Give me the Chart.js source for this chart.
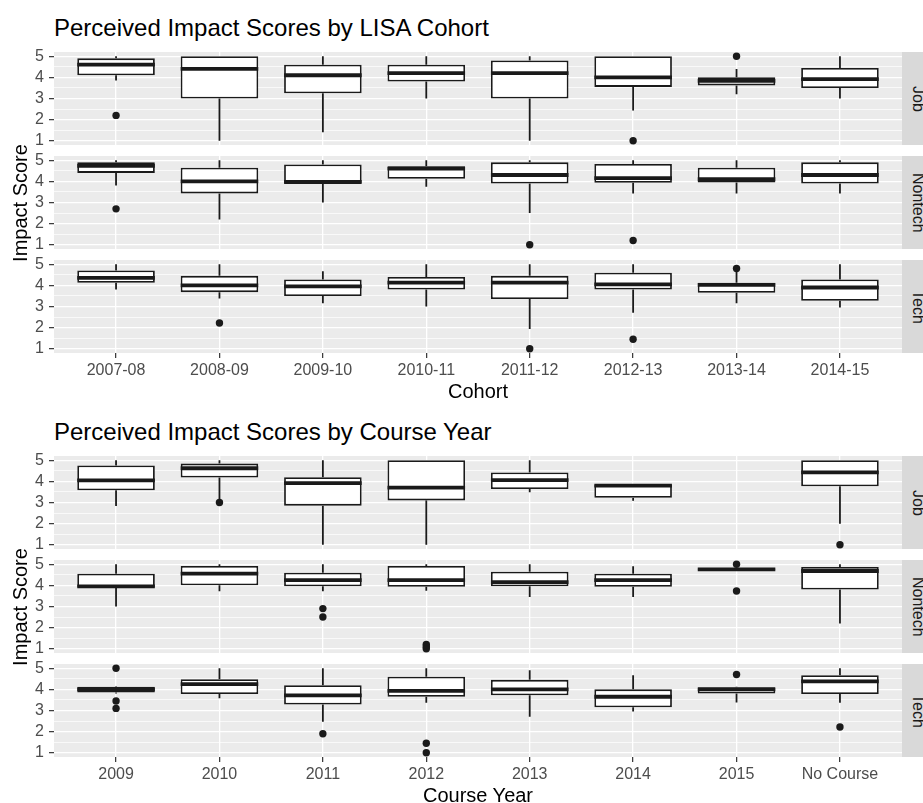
<!DOCTYPE html>
<html lang="en">
<head>
<meta charset="UTF-8">
<title>Perceived Impact Scores</title>
<script src="https://cdn.jsdelivr.net/npm/chart.js"></script>
<style>
  body { margin: 0; background: #fff; font-family: "Liberation Sans", Arial, sans-serif; }
  #page { position: relative; width: 923px; height: 803px; overflow: hidden; }
  canvas, .txt, .strip { position: absolute; }
  .title { font-size: 24px; line-height: 24px; color: #000; white-space: nowrap; }
  .axis-title { font-size: 20px; line-height: 20px; color: #000; text-align: center; white-space: nowrap; }
  .strip {
    background: #d9d9d9; color: #1a1a1a; font-size: 16px;
    writing-mode: vertical-rl; display: flex; align-items: center; justify-content: center;
  }
</style>
</head>
<body>
<div id="page"></div>
<script>
  const cohorts = ['2007-08', '2008-09', '2009-10', '2010-11', '2011-12', '2012-13', '2013-14', '2014-15'];
  const courseYears = ['2009', '2010', '2011', '2012', '2013', '2014', '2015', 'No Course'];
  const facets = ['Job', 'Nontech', 'Tech'];
  const yBreaks = [1, 2, 3, 4, 5];

  // each row: [lower whisker, Q1, median, Q3, upper whisker]
  const cohortJob = [
    [3.85, 4.1, 4.6, 4.9, 5.0],
    [1.0, 3.0, 4.4, 5.0, 5.0],
    [1.4, 3.25, 4.1, 4.6, 5.0],
    [3.0, 3.8, 4.2, 4.6, 5.0],
    [1.0, 3.0, 4.2, 4.8, 5.0],
    [2.43, 3.55, 4.0, 5.0, 5.0],
    [3.2, 3.62, 3.83, 4.0, 4.4],
    [3.0, 3.5, 3.92, 4.44, 5.0]
  ];
  const cohortJobOut = [[2.2], [], [], [], [], [1.0], [5.0], []];

  const cohortNontech = [
    [3.8, 4.4, 4.73, 4.9, 5.0],
    [2.2, 3.43, 4.0, 4.65, 5.0],
    [3.0, 3.92, 3.97, 4.8, 5.0],
    [3.74, 4.12, 4.6, 4.72, 5.0],
    [2.5, 3.9, 4.3, 4.9, 5.0],
    [3.43, 3.93, 4.15, 4.82, 5.0],
    [3.43, 3.95, 4.1, 4.65, 5.0],
    [3.43, 3.9, 4.3, 4.9, 5.0]
  ];
  const cohortNontechOut = [[2.7], [], [], [], [1.0], [1.2], [], []];

  const cohortTech = [
    [3.8, 4.12, 4.35, 4.7, 5.0],
    [3.38, 3.68, 4.0, 4.45, 5.0],
    [3.15, 3.5, 3.95, 4.28, 4.67],
    [3.0, 3.8, 4.13, 4.4, 5.0],
    [1.93, 3.35, 4.13, 4.45, 5.0],
    [2.7, 3.8, 4.05, 4.6, 5.0],
    [3.15, 3.65, 4.02, 4.12, 4.65],
    [2.95, 3.27, 3.9, 4.28, 5.0]
  ];
  const cohortTechOut = [[], [2.22], [], [], [1.0], [1.45], [4.8], []];

  const yearJob = [
    [2.84, 3.58, 4.05, 4.75, 5.0],
    [3.15, 4.18, 4.62, 4.84, 5.0],
    [1.0, 2.85, 3.92, 4.2, 5.0],
    [1.0, 3.1, 3.7, 5.0, 5.0],
    [3.48, 3.64, 4.06, 4.42, 5.0],
    [3.08, 3.22, 3.8, 3.84, 3.84],
    null,
    [2.0, 3.77, 4.43, 5.0, 5.0]
  ];
  const yearJobOut = [[], [3.0], [], [], [], [], [], [1.0]];

  const yearNontech = [
    [3.0, 3.9, 3.95, 4.55, 5.0],
    [3.72, 4.0, 4.56, 4.92, 5.0],
    [3.72, 3.96, 4.25, 4.6, 5.0],
    [3.75, 3.93, 4.25, 4.92, 5.0],
    [3.45, 3.96, 4.15, 4.65, 5.0],
    [3.45, 3.93, 4.25, 4.55, 4.9],
    [4.72, 4.72, 4.76, 4.8, 4.8],
    [2.2, 3.8, 4.68, 4.87, 5.0]
  ];
  const yearNontechOut = [[], [], [2.9, 2.5], [1.2, 1.1, 1.0], [], [], [5.0, 3.73], []];

  const yearTech = [
    [3.8, 3.85, 4.0, 4.12, 4.15],
    [3.58, 3.78, 4.25, 4.48, 5.0],
    [2.47, 3.28, 3.72, 4.2, 5.0],
    [3.37, 3.65, 3.93, 4.6, 5.0],
    [2.7, 3.72, 4.0, 4.45, 4.9],
    [2.95, 3.15, 3.65, 4.0, 4.67],
    [3.38, 3.8, 4.0, 4.1, 4.12],
    [3.37, 3.78, 4.38, 4.67, 5.0]
  ];
  const yearTechOut = [[5.0, 3.45, 3.1], [], [1.9], [1.45, 1.0], [], [], [4.7], [2.22]];

  // layout
  const PANEL_TOP = 52, PANEL_H = 93, PANEL_STEP = 104;
  const PANEL_LEFT = 54, PANEL_RIGHT = 902, FIG_STEP = 404;
  const PAD = 16, X_AXIS_H = 28;
  const INK = '#1a1a1a';

  Chart.defaults.font.family = '"Liberation Sans", Arial, sans-serif';

  const page = document.getElementById('page');
  const yGrid = [];
  yBreaks.forEach((b, i) => {
    yGrid.push(b);
    if (i < yBreaks.length - 1) yGrid.push((b + yBreaks[i + 1]) / 2);
  });
  const isMajor = v => yBreaks.includes(v);

  const panelBg = {
    id: 'panelBg',
    beforeDraw(chart) {
      const a = chart.chartArea;
      chart.ctx.save();
      chart.ctx.fillStyle = '#ebebeb';
      chart.ctx.fillRect(a.left, a.top, a.right - a.left, a.bottom - a.top);
      chart.ctx.restore();
    }
  };

  const boxParts = {
    id: 'boxParts',
    afterDatasetsDraw(chart) {
      const meta = chart.getDatasetMeta(0);
      const ys = chart.scales.y;
      const ctx = chart.ctx;
      ctx.save();
      ctx.strokeStyle = INK;
      meta.data.forEach((bar, j) => {
        const s = chart.data.datasets[0].data[j].s;
        const half = bar.width / 2;
        ctx.lineWidth = 1.8;
        ctx.beginPath();
        ctx.moveTo(bar.x, ys.getPixelForValue(s[0]));
        ctx.lineTo(bar.x, ys.getPixelForValue(s[1]));
        ctx.moveTo(bar.x, ys.getPixelForValue(s[3]));
        ctx.lineTo(bar.x, ys.getPixelForValue(s[4]));
        ctx.stroke();
        ctx.lineWidth = 3.8;
        ctx.beginPath();
        ctx.moveTo(bar.x - half, ys.getPixelForValue(s[2]));
        ctx.lineTo(bar.x + half, ys.getPixelForValue(s[2]));
        ctx.stroke();
      });
      ctx.restore();
    }
  };

  function addDiv(cls, text, css) {
    const d = document.createElement('div');
    d.className = cls;
    d.textContent = text;
    Object.assign(d.style, css);
    page.appendChild(d);
    return d;
  }

  function makePanel(top, cats, stats, outs, label, isLast) {
    const canvas = document.createElement('canvas');
    canvas.width = PANEL_RIGHT;
    canvas.height = PAD + PANEL_H + (isLast ? X_AXIS_H : PAD);
    canvas.style.left = '0px';
    canvas.style.top = (top - PAD) + 'px';
    page.appendChild(canvas);

    const boxes = [];
    stats.forEach((s, i) => { if (s) boxes.push({ x: i, y: [s[1], s[3]], s }); });
    const points = [];
    outs.forEach((list, i) => list.forEach(v => points.push({ x: i, y: v })));

    new Chart(canvas, {
      type: 'bar',
      data: {
        datasets: [
          {
            label: 'box',
            data: boxes,
            backgroundColor: '#fff',
            borderColor: INK,
            borderWidth: 1.8,
            borderSkipped: false,
            categoryPercentage: 0.75,
            barPercentage: 1
          },
          {
            type: 'scatter',
            label: 'outliers',
            data: points,
            pointRadius: 3.7,
            backgroundColor: INK,
            borderWidth: 0
          }
        ]
      },
      options: {
        responsive: false,
        animation: false,
        layout: { autoPadding: false, padding: { top: PAD, bottom: isLast ? 0 : PAD, left: 0, right: 0 } },
        plugins: { legend: { display: false }, tooltip: { enabled: false } },
        scales: {
          x: {
            type: 'linear',
            min: -0.6,
            max: cats.length - 0.4,
            offset: false,
            afterBuildTicks: s => { s.ticks = cats.map((c, i) => ({ value: i })); },
            afterFit: s => { s.height = isLast ? X_AXIS_H : 0; },
            ticks: {
              display: isLast, autoSkip: false, maxRotation: 0, minRotation: 0,
              color: '#4d4d4d', font: { size: 16 }, padding: 3,
              callback: v => cats[v]
            },
            grid: {
              color: '#fff', lineWidth: 1.3, offset: false,
              drawTicks: isLast, tickLength: 5, tickColor: '#333', tickWidth: 1.2
            },
            border: { display: false }
          },
          y: {
            min: 0.8,
            max: 5.2,
            afterBuildTicks: s => { s.ticks = yGrid.map(v => ({ value: v })); },
            afterFit: s => { s.width = PANEL_LEFT; },
            ticks: {
              autoSkip: false, color: '#4d4d4d', font: { size: 16 }, padding: 5,
              callback: v => isMajor(v) ? String(v) : ''
            },
            grid: {
              color: '#fff',
              lineWidth: c => (c.tick && isMajor(c.tick.value)) ? 1.3 : 0.7,
              tickLength: 5,
              tickColor: c => (c.tick && isMajor(c.tick.value)) ? '#333' : 'rgba(0,0,0,0)',
              tickWidth: 1.2
            },
            border: { display: false }
          }
        }
      },
      plugins: [panelBg, boxParts]
    });

    addDiv('strip', label, { left: PANEL_RIGHT + 'px', top: top + 'px', width: '32px', height: PANEL_H + 'px' });
  }

  function makeFigure(fig, title, xTitle, cats, panels) {
    const oy = fig * FIG_STEP;
    addDiv('txt title', title, { left: PANEL_LEFT + 'px', top: (oy + 16) + 'px' });
    panels.forEach((p, k) => {
      makePanel(oy + PANEL_TOP + k * PANEL_STEP, cats, p[0], p[1], facets[k], k === panels.length - 1);
    });
    const midX = (PANEL_LEFT + PANEL_RIGHT) / 2;
    addDiv('txt axis-title', xTitle, { left: (midX - 150) + 'px', top: (oy + 381) + 'px', width: '300px' });
    const midY = oy + PANEL_TOP + (2 * PANEL_STEP + PANEL_H) / 2;
    addDiv('txt axis-title', 'Impact Score', {
      left: (20.4 - 150) + 'px', top: (midY - 10) + 'px', width: '300px', height: '20px',
      transform: 'rotate(-90deg)'
    });
  }

  makeFigure(0, 'Perceived Impact Scores by LISA Cohort', 'Cohort', cohorts, [
    [cohortJob, cohortJobOut], [cohortNontech, cohortNontechOut], [cohortTech, cohortTechOut]
  ]);
  makeFigure(1, 'Perceived Impact Scores by Course Year', 'Course Year', courseYears, [
    [yearJob, yearJobOut], [yearNontech, yearNontechOut], [yearTech, yearTechOut]
  ]);
</script>
</body>
</html>
